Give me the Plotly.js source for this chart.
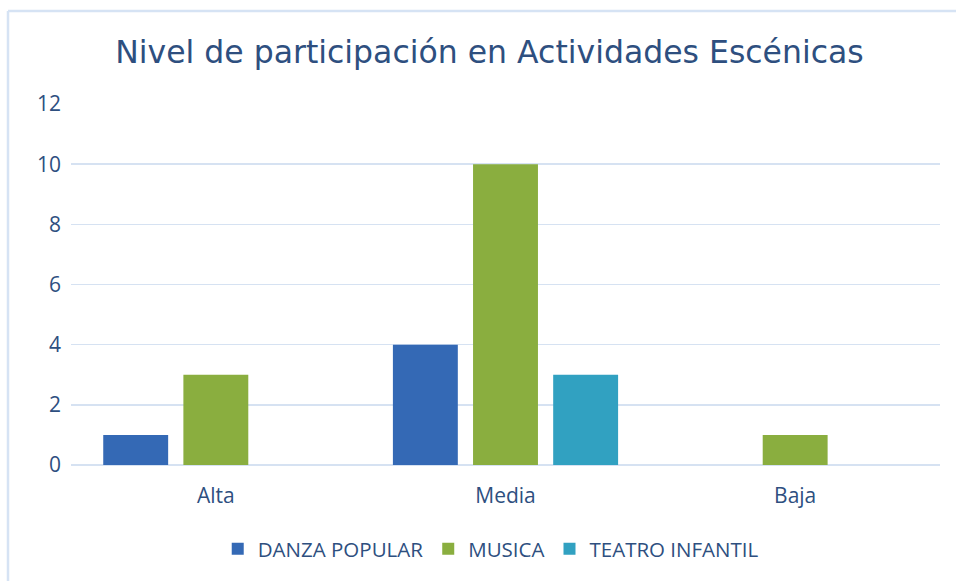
<!DOCTYPE html>
<html>
<head>
<meta charset="utf-8">
<script src="https://cdn.plot.ly/plotly-3.0.1.min.js"></script>
<style>
html,body{margin:0;padding:0;background:#fff;}
#chart{width:956px;height:581px;}
</style>
</head>
<body>
<div id="chart"></div>
<script>
const categories = ["Alta", "Media", "Baja"];
const seriesNames = ["DANZA POPULAR", "MUSICA", "TEATRO INFANTIL"];
const danzaPopular = [1, 4, 0];
const musica = [3, 10, 1];
const teatroInfantil = [0, 3, 0];
const yTicks = [0, 2, 4, 6, 8, 10, 12];

const colors = ["#3469B5", "#8AAE3F", "#31A1C1"];
const seriesValues = [danzaPopular, musica, teatroInfantil];

const traces = seriesValues.map((vals, i) => ({
  type: "bar",
  name: seriesNames[i],
  x: categories,
  y: vals,
  marker: {color: colors[i], line: {width: 0}},
  hoverinfo: "x+y+name"
}));

const textColor = "#2E4F7F";
const gridColor = "#D6E2F2";

const L = 71, R = 940, T = 104, B = 465;
const px2x = p => (p - L) / (R - L);
const px2y = p => (B - p) / (B - T);

const layout = {
  width: 956,
  height: 581,
  margin: {l: L, r: 956 - R, t: T, b: 581 - B},
  paper_bgcolor: "#ffffff",
  plot_bgcolor: "#ffffff",
  font: {family: "Open Sans, sans-serif", color: textColor},
  title: {
    text: "Nivel de participación en Actividades Escénicas",
    font: {family: "DejaVu Sans, sans-serif", size: 31.5, color: textColor},
    x: 0.512, xanchor: "center",
    y: 0.91, yanchor: "middle"
  },
  barmode: "group",
  bargap: 0.17,
  bargroupgap: 0.19,
  xaxis: {
    showgrid: false,
    showline: false,
    zeroline: false,
    ticks: "",
    tickfont: {family: "Open Sans, sans-serif", size: 21, color: textColor},
    ticklabelstandoff: 16
  },
  yaxis: {
    range: [0, 12],
    tickvals: yTicks,
    ticktext: yTicks.map(String),
    showgrid: true,
    gridcolor: gridColor,
    gridwidth: 1.5,
    zeroline: true,
    zerolinecolor: gridColor,
    zerolinewidth: 1.5,
    showline: false,
    ticks: "",
    tickfont: {family: "Open Sans, sans-serif", size: 21, color: textColor},
    ticklabelstandoff: 9
  },
  legend: {
    orientation: "h",
    x: 0.483, xanchor: "center",
    y: px2y(549), yanchor: "middle",
    font: {family: "Open Sans, sans-serif", size: 20.5, color: textColor},
    itemwidth: 30,
    traceorder: "normal"
  },
  shapes: [
    {type: "line", xref: "paper", yref: "paper",
     x0: px2x(8), x1: px2x(960), y0: px2y(11), y1: px2y(11),
     line: {color: "#D6E3F4", width: 2.5}},
    {type: "line", xref: "paper", yref: "paper",
     x0: px2x(8), x1: px2x(8), y0: px2y(11), y1: px2y(585),
     line: {color: "#D6E3F4", width: 2.5}}
  ],
  showlegend: true
};

Plotly.newPlot("chart", traces, layout, {displayModeBar: false, staticPlot: true});
</script>
</body>
</html>
